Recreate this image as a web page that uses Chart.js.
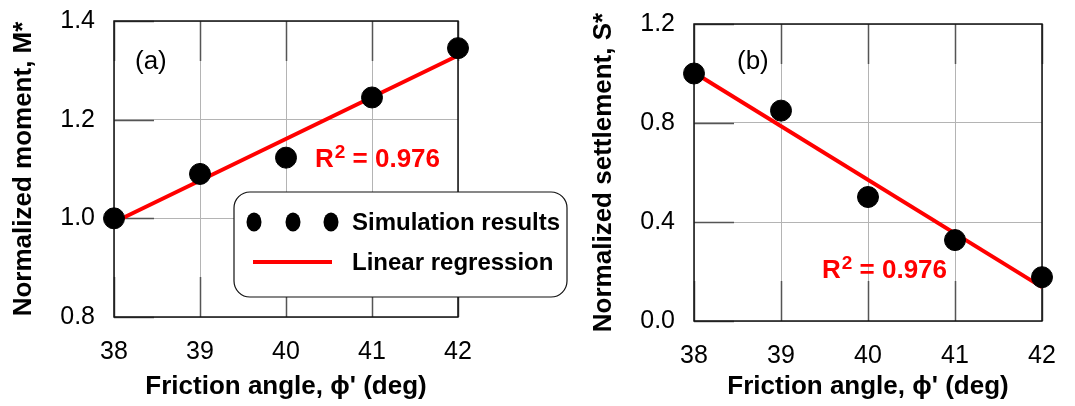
<!DOCTYPE html>
<html>
<head>
<meta charset="utf-8">
<script src="https://cdn.jsdelivr.net/npm/chart.js@4/dist/chart.umd.min.js"></script>
<style>
  html, body { margin: 0; padding: 0; background: #fff; }
  .wrap { position: absolute; top: 0; height: 406px; }
  #boxA { left: 0; width: 580px; }
  #boxB { left: 580px; width: 495px; }
</style>
</head>
<body>
<div class="wrap" id="boxA"><canvas id="chartA"></canvas></div>
<div class="wrap" id="boxB"><canvas id="chartB"></canvas></div>
<script>
// friction angle (deg)
const angles = [38, 39, 40, 41, 42];
const fitAngles = [38, 42];

// (a) normalized moment
const momentSim = [1.0, 1.09, 1.123, 1.245, 1.345];
const momentFit = [0.992, 1.330];
const momentTicks = [0.8, 1.0, 1.2, 1.4];

// (b) normalized settlement
const settleSim = [1.0, 0.85, 0.501, 0.327, 0.177];
const settleFit = [1.004, 0.137];
const settleTicks = [0.0, 0.4, 0.8, 1.2];

const angleTicks = [38, 39, 40, 41, 42];

const FONT = "'Liberation Sans', Arial, sans-serif";

function pts(xs, ys) {
    return xs.map((x, i) => ({ x: x, y: ys[i] }));
}

// dark frame + short inner tick marks like the original figure
const frameTicks = {
    id: 'frameTicks',
    beforeDatasetsDraw(chart) {
        const { ctx, chartArea: a, scales } = chart;
        const len = 40;
        ctx.save();
        ctx.strokeStyle = '#555';
        ctx.lineWidth = 1.5;
        ctx.beginPath();
        scales.x.ticks.forEach(t => {
            const px = Math.round(scales.x.getPixelForValue(t.value)) + 0.5;
            ctx.moveTo(px, a.top); ctx.lineTo(px, a.top + len);
            ctx.moveTo(px, a.bottom); ctx.lineTo(px, a.bottom - len);
        });
        scales.y.ticks.forEach(t => {
            const py = Math.round(scales.y.getPixelForValue(t.value)) + 0.5;
            ctx.moveTo(a.left, py); ctx.lineTo(a.left + len, py);
        });
        ctx.stroke();
        ctx.strokeStyle = '#111';
        ctx.lineWidth = 1.5;
        ctx.strokeRect(a.left, a.top, a.right - a.left, a.bottom - a.top);
        ctx.restore();
    }
};

// panel label + R^2 note
const notes = {
    id: 'notes',
    afterDraw(chart, args, opts) {
        const { ctx, chartArea: a } = chart;
        ctx.save();
        ctx.textBaseline = 'middle';
        ctx.fillStyle = '#000';
        ctx.font = '26px ' + FONT;
        ctx.fillText(opts.panel, a.left + opts.panelX, 62);

        ctx.textBaseline = 'alphabetic';
        ctx.fillStyle = '#ff0000';
        let x = a.left + opts.r2X;
        const y = opts.r2Y;
        ctx.font = 'bold 26px ' + FONT;
        ctx.fillText('R', x, y);
        x += ctx.measureText('R').width + 1;
        ctx.font = 'bold 19px ' + FONT;
        ctx.fillText('2', x, y - 9);
        x += ctx.measureText('2').width;
        ctx.font = 'bold 26px ' + FONT;
        ctx.fillText(' = ' + opts.r2, x, y);
        ctx.restore();
    }
};

// boxed legend of panel (a)
const boxLegend = {
    id: 'boxLegend',
    afterDraw(chart, args, opts) {
        if (!opts.show) return;
        const { ctx, chartArea: a } = chart;
        const sim = chart.data.datasets[0];
        const fit = chart.data.datasets[1];
        const L = a.left + 120, T = 192, W = 333, H = 105;
        ctx.save();
        ctx.fillStyle = '#fff';
        ctx.strokeStyle = '#111';
        ctx.lineWidth = 1.2;
        ctx.beginPath();
        ctx.roundRect(L, T, W, H, 16);
        ctx.fill();
        ctx.stroke();

        ctx.fillStyle = sim.pointBackgroundColor;
        [20, 59, 97].forEach(dx => {
            ctx.beginPath();
            ctx.ellipse(L + dx, T + 30, 7.5, 9.5, 0, 0, Math.PI * 2);
            ctx.fill();
        });
        ctx.strokeStyle = fit.borderColor;
        ctx.lineWidth = 4;
        ctx.beginPath();
        ctx.moveTo(L + 19, T + 70);
        ctx.lineTo(L + 98, T + 70);
        ctx.stroke();

        ctx.fillStyle = '#000';
        ctx.font = 'bold 24px ' + FONT;
        ctx.textBaseline = 'middle';
        ctx.fillText(sim.label, L + 118, T + 31);
        ctx.fillText(fit.label, L + 118, T + 71);
        ctx.restore();
    }
};

function makeChart(id, cfg) {
    return new Chart(document.getElementById(id), {
        type: 'scatter',
        data: {
            datasets: [
                {
                    label: 'Simulation results',
                    data: pts(angles, cfg.sim),
                    pointRadius: 10.5,
                    pointHoverRadius: 10.5,
                    pointBackgroundColor: '#000',
                    pointBorderColor: '#000',
                    showLine: false,
                    clip: false
                },
                {
                    label: 'Linear regression',
                    data: pts(fitAngles, cfg.fit),
                    showLine: true,
                    borderColor: '#ff0000',
                    borderWidth: 4,
                    pointRadius: 0,
                    clip: false
                }
            ]
        },
        options: {
            responsive: true,
            maintainAspectRatio: false,
            animation: false,
            events: [],
            layout: {
                padding: { left: 0, top: cfg.top, right: cfg.right, bottom: 0 }
            },
            scales: {
                x: {
                    type: 'linear',
                    min: 38,
                    max: 42,
                    afterBuildTicks: s => { s.ticks = angleTicks.map(v => ({ value: v })); },
                    afterFit: s => { s.height = cfg.xHeight; },
                    ticks: {
                        padding: 3,
                        color: '#000',
                        font: { family: FONT, size: 25 }
                    },
                    grid: { color: '#b4b4b4', lineWidth: 1, drawTicks: true, tickLength: 17, tickColor: 'rgba(0,0,0,0)' },
                    border: { display: false },
                    title: {
                        display: true,
                        text: "Friction angle, \u03d5' (deg)",
                        color: '#000',
                        font: { family: FONT, size: 26, weight: 'bold' },
                        padding: { top: 4, bottom: 4 }
                    }
                },
                y: {
                    type: 'linear',
                    min: cfg.ticks[0],
                    max: cfg.ticks[cfg.ticks.length - 1],
                    afterBuildTicks: s => { s.ticks = cfg.ticks.map(v => ({ value: v })); },
                    afterFit: s => { s.width = 114; },
                    ticks: {
                        padding: 3,
                        color: '#000',
                        font: { family: FONT, size: 25 },
                        callback: v => Number(v).toFixed(1)
                    },
                    grid: { color: '#b4b4b4', lineWidth: 1, drawTicks: true, tickLength: 16, tickColor: 'rgba(0,0,0,0)' },
                    border: { display: false },
                    title: {
                        display: true,
                        text: cfg.yTitle,
                        color: '#000',
                        font: { family: FONT, size: 26, weight: 'bold' },
                        padding: { top: 8, bottom: 4 }
                    }
                }
            },
            plugins: {
                legend: { display: false },
                tooltip: { enabled: false },
                notes: cfg.notes,
                boxLegend: { show: cfg.legend }
            }
        },
        plugins: [frameTicks, notes, boxLegend]
    });
}

makeChart('chartA', {
    sim: momentSim,
    fit: momentFit,
    ticks: momentTicks,
    yTitle: 'Normalized moment, M*',
    top: 21,
    right: 122,
    xHeight: 89,
    legend: true,
    notes: { panel: '(a)', panelX: 21, r2: '0.976', r2X: 201, r2Y: 167 }
});

makeChart('chartB', {
    sim: settleSim,
    fit: settleFit,
    ticks: settleTicks,
    yTitle: 'Normalized settlement, S*',
    top: 24,
    right: 33,
    xHeight: 85,
    legend: false,
    notes: { panel: '(b)', panelX: 43, r2: '0.976', r2X: 128, r2Y: 278 }
});
</script>
</body>
</html>
